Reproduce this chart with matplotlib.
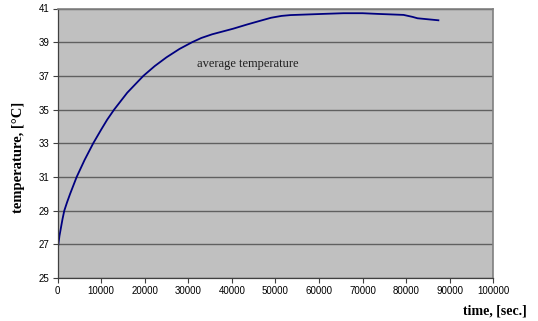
import numpy as np
import matplotlib.pyplot as plt

# time [sec] and average temperature [C]
time_s = [0, 200, 450, 800, 1150, 1560, 2200, 2900, 4400, 6200, 8200, 10000,
          11400, 13000, 16000, 19700, 22300, 25000, 28000, 30900, 33000,
          35500, 40300, 43500, 46500, 49000, 51400, 53500, 55700, 61000,
          65600, 70000, 73400, 79400, 81500, 82600, 85000, 87400]
temp_c = [26.66, 27.0, 27.5, 28.0, 28.5, 29.0, 29.5, 30.0, 31.0, 32.0, 33.0,
          33.8, 34.4, 35.0, 36.0, 37.0, 37.58, 38.1, 38.6, 39.0, 39.25,
          39.47, 39.8, 40.05, 40.27, 40.45, 40.56, 40.61, 40.63, 40.68,
          40.72, 40.72, 40.68, 40.62, 40.5, 40.42, 40.36, 40.3]

xticks = np.arange(0, 100001, 10000)
yticks = np.arange(25, 42, 2)

fig = plt.figure(figsize=(5.38, 3.21), dpi=100)
ax = fig.add_axes([57.5/538, 1-278/321, (493.3-57.5)/538, (278-8.5)/321])
ax.set_facecolor('#c0c0c0')

ax.plot(time_s, temp_c, color='#000080', lw=1.3)

ax.set_xlim(0, 100000)
ax.set_ylim(25, 41)
ax.set_xticks(xticks)
ax.set_yticks(yticks)
ax.set_xticklabels([str(t) for t in xticks], fontsize=7, family='Liberation Sans')
ax.set_yticklabels([str(t) for t in yticks], fontsize=7, family='Liberation Sans')
ax.tick_params(length=3.5, width=0.8, color='#404040', pad=2.5)
ax.yaxis.grid(True, color='#606060', lw=1)
ax.set_axisbelow(True)

for s in ['top', 'right']:
    ax.spines[s].set_color('#808080')
    ax.spines[s].set_linewidth(1.2)
for s in ['left', 'bottom']:
    ax.spines[s].set_color('#404040')
    ax.spines[s].set_linewidth(0.9)

ax.text(43700, 37.7, 'average temperature', family='Liberation Serif',
        fontsize=9, ha='center', va='center', color='#202020')

fig.text(527/538, 1-311/321, 'time, [sec.]', family='Liberation Serif',
         fontsize=10, fontweight='bold', ha='right', va='center')
fig.text(19/538, 1-157/321, 'temperature, [°C]', family='Liberation Serif',
         fontsize=10.5, fontweight='bold', rotation=90, ha='center', va='center')

fig.savefig('out.png', dpi=100)
